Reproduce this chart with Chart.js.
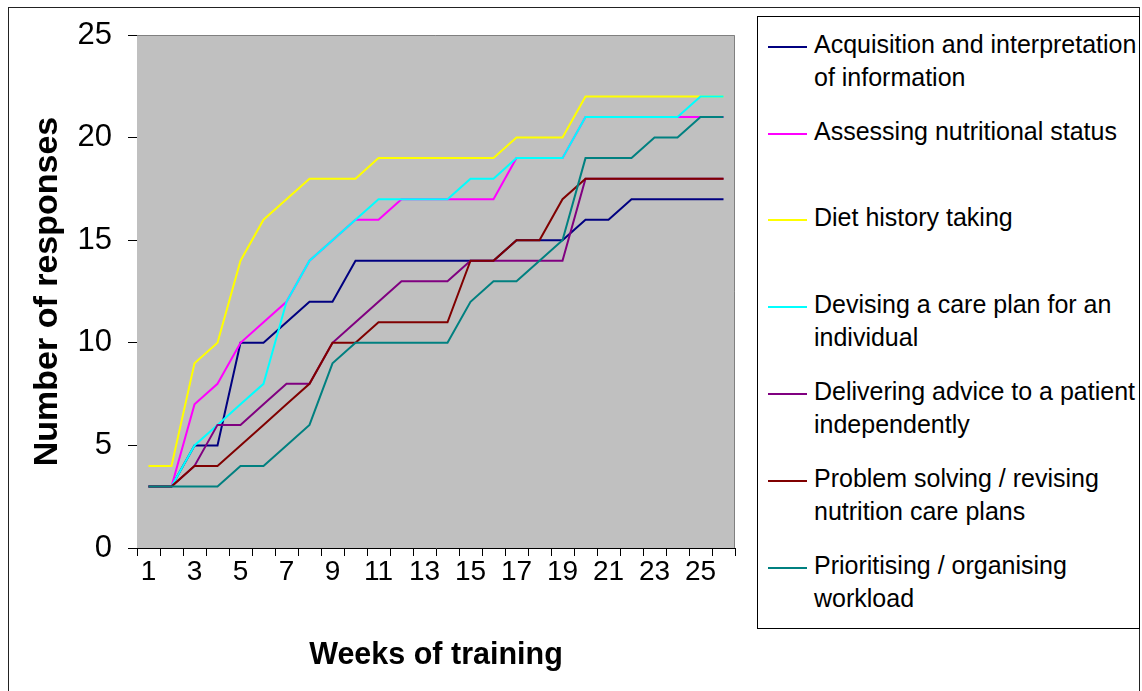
<!DOCTYPE html>
<html>
<head>
<meta charset="utf-8">
<script src="https://cdn.jsdelivr.net/npm/chart.js@4/dist/chart.umd.min.js"></script>
<style>
  html, body { margin: 0; padding: 0; background: #fff; }
  #wrap { position: relative; width: 1142px; height: 691px; overflow: hidden; font-family: "Liberation Sans", Arial, sans-serif; }
  #outer { position: absolute; left: 8px; top: 7px; width: 1132px; height: 700px; border: 1px solid #222; box-sizing: border-box; }
  #c { position: absolute; left: 0; top: 0; }
  #legend { position: absolute; left: 757px; top: 16px; width: 383px; height: 613px; border: 1px solid #000; box-sizing: border-box; background: #fff; }
  .item { position: absolute; left: 0; width: 380px; }
  .swatch { position: absolute; left: 10px; width: 39px; height: 2px; }
  .txt { position: absolute; left: 56px; font-size: 25px; line-height: 33px; color: #000; white-space: nowrap; }
</style>
</head>
<body>
<div id="wrap">
  <div id="outer"></div>
  <canvas id="c" width="1142" height="691"></canvas>
  <div id="legend"></div>
</div>
<script>
// ---- data ----
const weeks = ["1","2","3","4","5","6","7","8","9","10","11","12","13","14","15","16","17","18","19","20","21","22","23","24","25","26"];
const acquisition = [3,3,5,5,10,10,11,12,12,14,14,14,14,14,14,14,15,15,15,16,16,17,17,17,17,17];
const assessing   = [3,3,7,8,10,11,12,14,15,16,16,17,17,17,17,17,19,19,19,21,21,21,21,21,21,21];
const dietHistory = [4,4,9,10,14,16,17,18,18,18,19,19,19,19,19,19,20,20,20,22,22,22,22,22,22,22];
const devising    = [3,3,5,6,7,8,12,14,15,16,17,17,17,17,18,18,19,19,19,21,21,21,21,21,22,22];
const delivering  = [3,3,4,6,6,7,8,8,10,11,12,13,13,13,14,14,14,14,14,18,18,18,18,18,18,18];
const problem     = [3,3,4,4,5,6,7,8,10,10,11,11,11,11,14,14,15,15,17,18,18,18,18,18,18,18];
const prioritising= [3,3,3,3,4,4,5,6,9,10,10,10,10,10,12,13,13,14,15,19,19,19,20,20,21,21];
const yTicks = [0,5,10,15,20,25];
const seriesNames = [
  "Acquisition and interpretation of information",
  "Assessing nutritional status",
  "Diet history taking",
  "Devising a care plan for an individual",
  "Delivering advice to a patient independently",
  "Problem solving / revising nutrition care plans",
  "Prioritising / organising workload"
];
const legendLines = [
  ["Acquisition and interpretation", "of information"],
  ["Assessing nutritional status"],
  ["Diet history taking"],
  ["Devising a care plan for an", "individual"],
  ["Delivering advice to a patient", "independently"],
  ["Problem solving / revising", "nutrition care plans"],
  ["Prioritising / organising", "workload"]
];
const seriesValues = [acquisition, assessing, dietHistory, devising, delivering, problem, prioritising];
const seriesColors = ["#000080", "#FF00FF", "#FFFF00", "#00FFFF", "#800080", "#800000", "#008080"];

// ---- plot area background ----
const plotBg = {
  id: 'plotBg',
  beforeDatasetsDraw(chart) {
    const a = chart.chartArea, ctx = chart.ctx;
    ctx.save();
    ctx.fillStyle = '#C0C0C0';
    ctx.fillRect(a.left, a.top, a.right - a.left, a.bottom - a.top);
    ctx.strokeStyle = '#808080';
    ctx.lineWidth = 1;
    ctx.beginPath();
    ctx.moveTo(a.left, a.top + 0.5);
    ctx.lineTo(a.right - 0.5, a.top + 0.5);
    ctx.lineTo(a.right - 0.5, a.bottom);
    ctx.stroke();
    ctx.restore();
  }
};

const datasets = seriesValues.map((vals, i) => ({
  label: seriesNames[i],
  data: vals,
  borderColor: seriesColors[i],
  backgroundColor: seriesColors[i],
  borderWidth: 2,
  pointRadius: 0,
  tension: 0,
  fill: false,
  order: seriesValues.length - i
}));

new Chart(document.getElementById('c'), {
  type: 'line',
  data: { labels: weeks, datasets },
  plugins: [plotBg],
  options: {
    responsive: false,
    animation: false,
    layout: { padding: { top: 35, right: 407, left: 0, bottom: 0 } },
    plugins: { legend: { display: false }, tooltip: { enabled: false } },
    scales: {
      x: {
        type: 'category',
        offset: true,
        grid: { display: true, drawOnChartArea: false, drawTicks: true, tickLength: 8, offset: true, color: '#000', lineWidth: 1 },
        border: { display: true, color: '#000', width: 1 },
        ticks: {
          autoSkip: false, maxRotation: 0, minRotation: 0, padding: -1,
          color: '#000',
          font: { family: '"Liberation Sans", Arial, sans-serif', size: 28 },
          callback: (v, i) => (i % 2 === 0 ? weeks[i] : '')
        },
        title: {
          display: true, text: 'Weeks of training', color: '#000',
          font: { family: '"Liberation Sans", Arial, sans-serif', size: 30.5, weight: 'bold' },
          padding: { top: 0, bottom: 17 }
        },
        afterFit: (s) => { s.height = 691 - 548; }
      },
      y: {
        min: 0, max: 25,
        afterBuildTicks: (s) => { s.ticks = yTicks.map(v => ({ value: v })); },
        grid: { display: true, drawOnChartArea: false, drawTicks: true, tickLength: 9, color: '#000' },
        border: { display: true, color: '#000', width: 1 },
        ticks: {
          padding: 16, color: '#000',
          font: { family: '"Liberation Sans", Arial, sans-serif', size: 31 }
        },
        title: {
          display: true, text: 'Number of responses', color: '#000',
          font: { family: '"Liberation Sans", Arial, sans-serif', size: 34, weight: 'bold' },
          padding: { top: 27, bottom: 0 }
        },
        afterFit: (s) => { s.width = 137; }
      }
    }
  }
});

// ---- legend (HTML, built from the series arrays) ----
const leg = document.getElementById('legend');
const firstTop = 27.8 - 17;   // relative to legend box
const step = 86.8;
legendLines.forEach((lines, i) => {
  const it = document.createElement('div');
  it.className = 'item';
  it.style.top = (firstTop + i * step) + 'px';
  const sw = document.createElement('div');
  sw.className = 'swatch';
  sw.style.top = '18px';
  sw.style.background = seriesColors[i];
  const tx = document.createElement('div');
  tx.className = 'txt';
  tx.style.top = '0px';
  tx.innerHTML = lines.join('<br>');
  it.appendChild(sw);
  it.appendChild(tx);
  leg.appendChild(it);
});
</script>
</body>
</html>
